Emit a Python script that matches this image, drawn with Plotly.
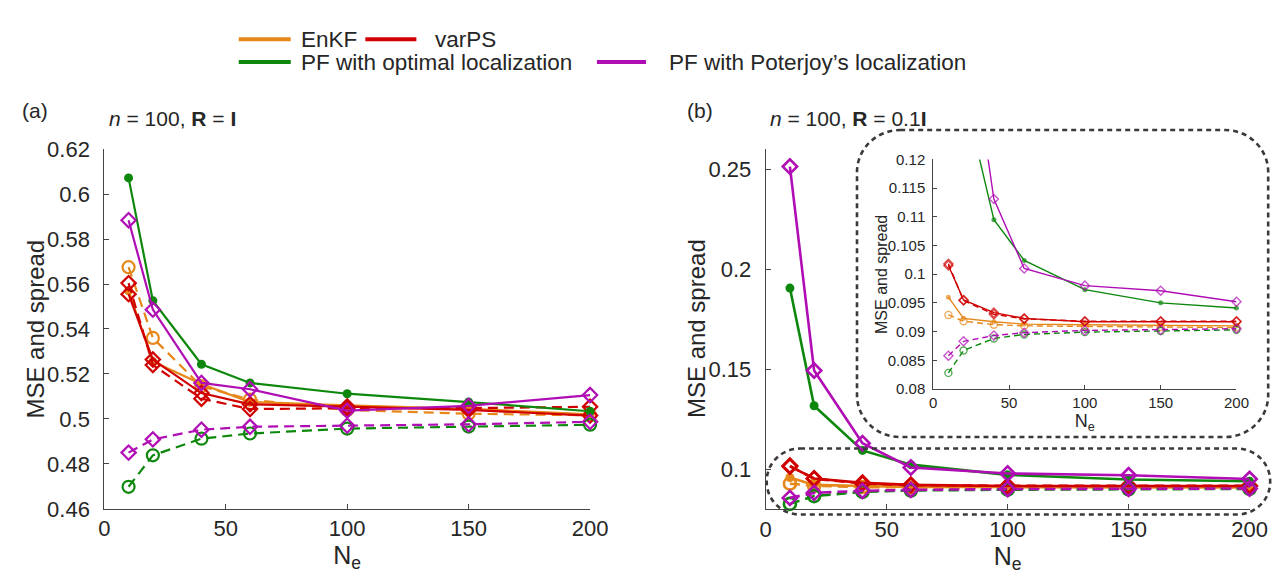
import plotly.graph_objects as go

# ---------------- data ----------------
Ne = [10, 20, 40, 60, 100, 150, 200]
x_ticks = [0, 50, 100, 150, 200]

# panel (a): n = 100, R = I
a_enkf_mse = [0.5570, 0.5255, 0.5155, 0.5075, 0.5060, 0.5045, 0.5020]
a_enkf_spread = [0.5675, 0.5360, 0.5145, 0.5086, 0.5040, 0.5023, 0.5016]
a_varps_mse = [0.5555, 0.5264, 0.5115, 0.5065, 0.5055, 0.5040, 0.5015]
a_varps_spread = [0.5604, 0.5240, 0.5090, 0.5044, 0.5047, 0.5048, 0.5054]
a_pfopt_mse = [0.6072, 0.5526, 0.5243, 0.5160, 0.5112, 0.5075, 0.5034]
a_pfopt_spread = [0.4698, 0.4838, 0.4912, 0.4935, 0.4957, 0.4966, 0.4974]
a_pfpot_mse = [0.5884, 0.5486, 0.5160, 0.5132, 0.5037, 0.5058, 0.5106]
a_pfpot_spread = [0.4850, 0.4909, 0.4952, 0.4965, 0.4970, 0.4976, 0.4987]
a_yticks = [0.46, 0.48, 0.50, 0.52, 0.54, 0.56, 0.58, 0.60, 0.62]
a_yticklabels = ["0.46", "0.48", "0.5", "0.52", "0.54", "0.56", "0.58", "0.6", "0.62"]

# panel (b): n = 100, R = 0.1 I
b_enkf_mse = [0.0960, 0.0923, 0.0917, 0.0913, 0.0912, 0.0911, 0.0910]
b_enkf_spread = [0.0929, 0.0918, 0.0912, 0.0910, 0.0909, 0.0908, 0.0907]
b_varps_mse = [0.1015, 0.0955, 0.0933, 0.0923, 0.0917, 0.0917, 0.0917]
b_varps_spread = [0.1018, 0.0954, 0.0930, 0.0922, 0.0918, 0.0918, 0.0918]
b_pfopt_mse = [0.1906, 0.1318, 0.1095, 0.1024, 0.0973, 0.0950, 0.0941]
b_pfopt_spread = [0.0828, 0.0867, 0.0888, 0.0895, 0.0899, 0.0901, 0.0903]
b_pfpot_mse = [0.2513, 0.1494, 0.1131, 0.1010, 0.0980, 0.0971, 0.0952]
b_pfpot_spread = [0.0858, 0.0883, 0.0893, 0.0898, 0.0902, 0.0903, 0.0905]
b_yticks = [0.10, 0.15, 0.20, 0.25]
b_yticklabels = ["0.1", "0.15", "0.2", "0.25"]
inset_yticks = [0.08, 0.085, 0.09, 0.095, 0.10, 0.105, 0.11, 0.115, 0.12]
inset_yticklabels = ["0.08", "0.085", "0.09", "0.095", "0.1", "0.105", "0.11", "0.115", "0.12"]

names = ["EnKF", "varPS", "PF with optimal localization", "PF with Poterjoy\u2019s localization"]
colors = ["#E6871A", "#D00000", "#0D880D", "#B00DB5"]

# ---------------- layout helpers ----------------
W, H = 1288, 576
FONT = "Liberation Sans, Arial, Helvetica, sans-serif"
AXC = "#444444"
TXT = "#262626"


def px_x(p):
    return p / W


def px_y(p):
    return 1 - p / H


fig = go.Figure()

panels = {
    "a": [(a_enkf_mse, a_enkf_spread), (a_varps_mse, a_varps_spread),
          (a_pfopt_mse, a_pfopt_spread), (a_pfpot_mse, a_pfpot_spread)],
    "b": [(b_enkf_mse, b_enkf_spread), (b_varps_mse, b_varps_spread),
          (b_pfopt_mse, b_pfopt_spread), (b_pfpot_mse, b_pfpot_spread)],
}
mse_symbols = ["circle", "diamond-open", "circle", "diamond-open"]
spread_symbols = ["circle-open", "diamond-open", "circle-open", "diamond-open"]


def add_panel(series, xa, ya, lw, sz_diamond, sz_ring, sz_dot, dash, ymax=None):
    for i, (mse, spr) in enumerate(series):
        for vals, sym, is_mse in ((mse, mse_symbols[i], True), (spr, spread_symbols[i], False)):
            size = {"circle": sz_dot, "circle-open": sz_ring}.get(sym, sz_diamond)
            if ymax is not None:
                sizes = [size if v <= ymax else 0 for v in vals]
            else:
                sizes = size
            fig.add_trace(go.Scatter(
                x=Ne, y=vals, xaxis=xa, yaxis=ya,
                mode="lines+markers",
                name=names[i] + (" MSE" if is_mse else " spread"),
                showlegend=False,
                line=dict(color=colors[i], width=lw, dash=None if is_mse else dash),
                marker=dict(symbol=sym, size=sizes, color=colors[i],
                            line=dict(color=colors[i], width=lw if sym != "circle" else 0)),
                cliponaxis=False,
            ))


add_panel(panels["a"], "x", "y", 2.2, 11, 12, 9, "10px,6px")
add_panel(panels["b"], "x2", "y2", 2.6, 11, 12, 9, "10px,6px")
add_panel(panels["b"], "x3", "y3", 1.4, 7, 7, 5, "6px,4px", ymax=0.12)


def axis(domain, rng, tickvals, ticktext, fs, ticklen=5, standoff=None):
    d = dict(domain=domain, range=rng, tickvals=tickvals, ticktext=ticktext,
             showline=True, linecolor=AXC, linewidth=1, ticks="inside", ticklen=ticklen,
             tickcolor=AXC, tickwidth=1, showgrid=False, zeroline=False,
             tickfont=dict(family=FONT, size=fs, color=TXT), fixedrange=True)
    if standoff is not None:
        d["ticklabelstandoff"] = standoff
    return d


xa = axis([px_x(92), px_x(587)], [0, 200], x_ticks, [str(v) for v in x_ticks], 22)
ya = axis([px_y(511), px_y(135)], [0.46, 0.62], a_yticks, a_yticklabels, 22, standoff=9)
xb = axis([px_x(766), px_x(1259)], [0, 200], x_ticks, [str(v) for v in x_ticks], 22)
yb = axis([px_y(511.7), px_y(135)], [0.08, 0.26], b_yticks, b_yticklabels, 22, standoff=9)
xi = axis([px_x(936.7), px_x(1245.7)], [0, 200], x_ticks, [str(v) for v in x_ticks], 15, 4)
yi = axis([px_y(385.7), px_y(145.7)], [0.08, 0.12], inset_yticks, inset_yticklabels, 15, 4, standoff=4)

for ax in (xa, xb):
    ax["title"] = dict(text="N<sub>e</sub>", font=dict(family=FONT, size=25, color=TXT), standoff=4)
xi["title"] = dict(text="N<sub>e</sub>", font=dict(family=FONT, size=18, color=TXT), standoff=2)
xa["anchor"] = "y"; ya["anchor"] = "x"
xb["anchor"] = "y2"; yb["anchor"] = "x2"
xi["anchor"] = "y3"; yi["anchor"] = "x3"

annotations = []
shapes = []


def text(px, py, s, size, xanchor="center", angle=0):
    annotations.append(dict(x=px_x(px), y=px_y(py), xref="paper", yref="paper", text=s,
                            showarrow=False, xanchor=xanchor, yanchor="middle", textangle=angle,
                            font=dict(family=FONT, size=size, color=TXT)))


# y-axis titles
text(22, 323, "MSE and spread", 24, angle=-90)
text(696, 323, "MSE and spread", 24, angle=-90)
text(884, 266, "MSE and spread", 16, angle=-90)
# panel labels and titles
text(21, 95, "(a)", 21)
text(699, 95, "(b)", 21)
text(162, 103, "<i>n</i> = 100, <b>R</b> = <b>I</b>", 21)
text(850, 103, "<i>n</i> = 100, <b>R</b> = 0.1<b>I</b>", 21)

# legend (swatches + labels)
legend_items = [
    (229, 282, 20, 290, 0),
    (358, 410, 20, 427, 1),
    (229, 282, 44, 290, 2),
    (594, 644, 44, 665, 3),
]
for x0, x1, yy, tx, idx in legend_items:
    shapes.append(dict(type="line", xref="paper", yref="paper",
                       x0=px_x(x0), x1=px_x(x1), y0=px_y(yy), y1=px_y(yy),
                       line=dict(color=colors[idx], width=4)))
    text(tx, yy, names[idx], 22.5, xanchor="left")


def rounded_rect(x0, y0, x1, y1, r):
    k = 0.5523 * r
    P = lambda a, b: f"{px_x(a):.5f},{px_y(b):.5f}"
    return (f"M {P(x0 + r, y0)} L {P(x1 - r, y0)} "
            f"C {P(x1 - r + k, y0)} {P(x1, y0 + r - k)} {P(x1, y0 + r)} "
            f"L {P(x1, y1 - r)} "
            f"C {P(x1, y1 - r + k)} {P(x1 - r + k, y1)} {P(x1 - r, y1)} "
            f"L {P(x0 + r, y1)} "
            f"C {P(x0 + r - k, y1)} {P(x0, y1 - r + k)} {P(x0, y1 - r)} "
            f"L {P(x0, y0 + r)} "
            f"C {P(x0, y0 + r - k)} {P(x0 + r - k, y0)} {P(x0 + r, y0)} Z")


for box in ((859, 115, 1278, 436, 44), (767, 448, 1280, 517, 34)):
    shapes.append(dict(type="path", xref="paper", yref="paper", path=rounded_rect(*box),
                       line=dict(color="#3a3a3a", width=2.6, dash="5px,4px")))

fig.update_layout(
    width=W, height=H, margin=dict(l=0, r=0, t=0, b=0),
    paper_bgcolor="white", plot_bgcolor="rgba(0,0,0,0)",
    showlegend=False,
    xaxis=xa, yaxis=ya, xaxis2=xb, yaxis2=yb, xaxis3=xi, yaxis3=yi,
    annotations=annotations, shapes=shapes,
    font=dict(family=FONT, color=TXT),
)

fig.write_html("out.html")
